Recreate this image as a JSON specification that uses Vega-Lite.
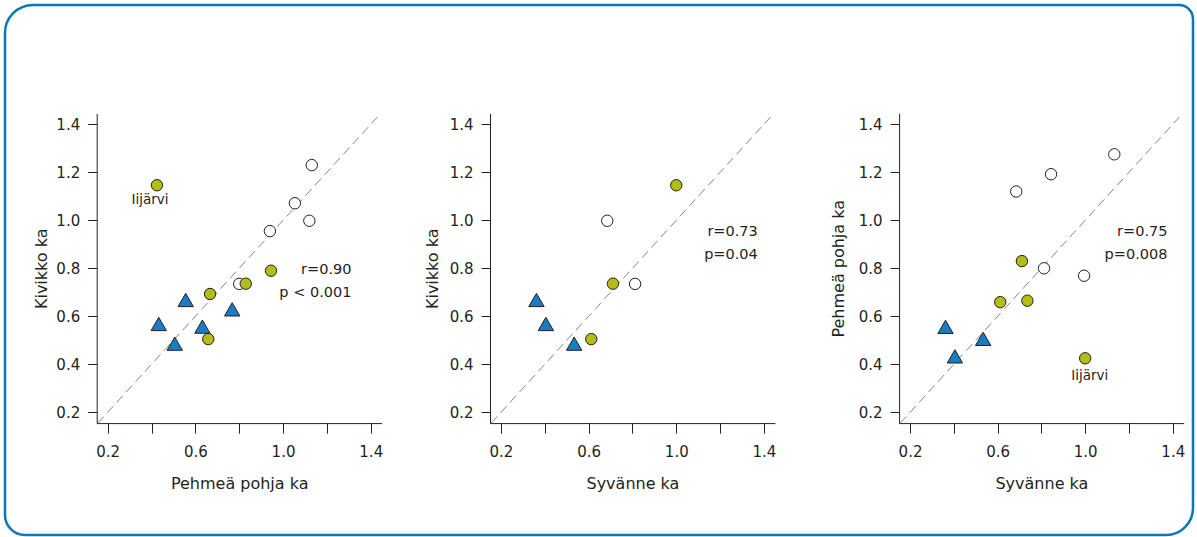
{
  "$schema": "https://vega.github.io/schema/vega-lite/v6.json",
  "width": 1188,
  "height": 530,
  "autosize": {"type": "none"},
  "padding": {"left": 5, "top": 5, "right": 4, "bottom": 2},
  "background": "white",
  "config": {
    "font": "DejaVu Sans",
    "view": {"stroke": "#0b76bc", "strokeWidth": 2.5},
    "style": {
      "cell": {
        "cornerRadiusTopLeft": 28,
        "cornerRadiusTopRight": 14,
        "cornerRadiusBottomLeft": 20,
        "cornerRadiusBottomRight": 27
      }
    },
    "axis": {
      "grid": false,
      "domainColor": "#231f20",
      "domainWidth": 1,
      "tickColor": "#231f20",
      "tickWidth": 1,
      "labelColor": "#231f20",
      "titleColor": "#231f20",
      "labelFont": "DejaVu Sans",
      "titleFont": "DejaVu Sans",
      "labelFontSize": 15,
      "titleFontSize": 16,
      "titleFontWeight": "normal",
      "labelFlush": false,
      "labelOverlap": false
    }
  },
  "datasets": {
    "jarvet": [
      {"ryhma": 2, "pehmea": 0.425, "kivikko": 1.146, "syvanne": 1.0, "nimi": "Iijärvi"},
      {"ryhma": 1, "pehmea": 1.12, "kivikko": 0.998, "syvanne": 0.685, "nimi": null},
      {"ryhma": 1, "pehmea": 0.8, "kivikko": 0.735, "syvanne": 0.812, "nimi": null},
      {"ryhma": 2, "pehmea": 0.83, "kivikko": 0.736, "syvanne": 0.711, "nimi": null},
      {"ryhma": 2, "pehmea": 0.659, "kivikko": 0.505, "syvanne": 0.612, "nimi": null},
      {"ryhma": 3, "pehmea": 0.556, "kivikko": 0.668, "syvanne": 0.362, "nimi": null},
      {"ryhma": 3, "pehmea": 0.433, "kivikko": 0.568, "syvanne": 0.405, "nimi": null},
      {"ryhma": 3, "pehmea": 0.506, "kivikko": 0.486, "syvanne": 0.534, "nimi": null},
      {"ryhma": 1, "pehmea": 1.275, "kivikko": null, "syvanne": 1.133, "nimi": null},
      {"ryhma": 1, "pehmea": 1.192, "kivikko": null, "syvanne": 0.844, "nimi": null},
      {"ryhma": 1, "pehmea": 0.769, "kivikko": null, "syvanne": 0.995, "nimi": null},
      {"ryhma": 2, "pehmea": 0.665, "kivikko": null, "syvanne": 0.736, "nimi": null},
      {"ryhma": 1, "pehmea": 1.131, "kivikko": 1.23, "syvanne": null, "nimi": null},
      {"ryhma": 1, "pehmea": 1.054, "kivikko": 1.071, "syvanne": null, "nimi": null},
      {"ryhma": 1, "pehmea": 0.94, "kivikko": 0.955, "syvanne": null, "nimi": null},
      {"ryhma": 2, "pehmea": 0.945, "kivikko": 0.79, "syvanne": null, "nimi": null},
      {"ryhma": 2, "pehmea": 0.667, "kivikko": 0.693, "syvanne": null, "nimi": null},
      {"ryhma": 3, "pehmea": 0.768, "kivikko": 0.629, "syvanne": null, "nimi": null},
      {"ryhma": 3, "pehmea": 0.632, "kivikko": 0.557, "syvanne": null, "nimi": null}
    ]
  },
  "layer": [
    {
      "encoding": {
        "x": {
          "field": "pehmea", "type": "quantitative",
          "scale": {"domain": [0.15, 1.45], "range": [91.7, 376.7], "nice": false, "zero": false},
          "axis": {
            "title": "Pehmeä pohja ka", "orient": "bottom", "offset": -111.9,
            "values": [0.2, 0.4, 0.6, 0.8, 1.0, 1.2, 1.4], "format": ".1f",
            "labelExpr": "indexof(['0.2','0.6','1.0','1.4'], datum.label) >= 0 ? datum.label : ''",
            "tickSize": 10, "labelPadding": 11, "titlePadding": 16
          }
        },
        "y": {
          "field": "kivikko", "type": "quantitative",
          "scale": {"domain": [0.155, 1.445], "range": [418.1, 108.5], "nice": false, "zero": false},
          "axis": {
            "title": "Kivikko ka", "orient": "left", "offset": -91.7,
            "values": [0.2, 0.4, 0.6, 0.8, 1.0, 1.2, 1.4], "format": ".1f",
            "tickSize": 9, "labelPadding": 8, "titlePadding": 6
          }
        }
      },
      "layer": [
        {
          "data": {"values": [{"pehmea": 0.155, "kivikko": 0.155}, {"pehmea": 1.43, "kivikko": 1.43}]},
          "mark": {"type": "line", "color": "#858585", "strokeWidth": 1, "strokeDash": [9, 5]}
        },
        {
          "data": {"name": "jarvet"},
          "transform": [{"filter": "isValid(datum.pehmea) && isValid(datum.kivikko) && datum.ryhma != 3"}],
          "mark": {"type": "point", "shape": "circle", "filled": true, "size": 130, "stroke": "#231f20", "strokeWidth": 1, "opacity": 1},
          "encoding": {"fill": {"field": "ryhma", "type": "nominal", "scale": {"domain": [1, 2, 3], "range": ["#ffffff", "#b3bc19", "#1a7dc1"]}, "legend": null}}
        },
        {
          "data": {"name": "jarvet"},
          "transform": [{"filter": "isValid(datum.pehmea) && isValid(datum.kivikko) && datum.ryhma == 3"}],
          "mark": {"type": "point", "shape": "triangle-up", "filled": true, "size": 235, "stroke": "#231f20", "strokeWidth": 1, "opacity": 1},
          "encoding": {"fill": {"field": "ryhma", "type": "nominal", "legend": null}}
        },
        {
          "data": {"name": "jarvet"},
          "transform": [{"filter": "isValid(datum.pehmea) && isValid(datum.kivikko) && isValid(datum.nimi)"}],
          "mark": {"type": "text", "fontSize": 13.5, "color": "#231f20", "align": "center", "baseline": "alphabetic", "dx": -7, "dy": 19},
          "encoding": {"text": {"field": "nimi"}}
        },
        {
          "data": {"values": [
            {"pehmea": 1.312, "kivikko": 0.821, "teksti": "r=0.90"},
            {"pehmea": 1.312, "kivikko": 0.725, "teksti": "p < 0.001"}
          ]},
          "mark": {"type": "text", "fontSize": 14.5, "color": "#231f20", "align": "right", "baseline": "top"},
          "encoding": {"text": {"field": "teksti"}}
        }
      ]
    },
    {
      "encoding": {
        "x": {
          "field": "syvanne", "type": "quantitative",
          "scale": {"domain": [0.15, 1.45], "range": [485.0, 769.9], "nice": false, "zero": false},
          "axis": {
            "title": "Syvänne ka", "orient": "bottom", "offset": -111.9,
            "values": [0.2, 0.4, 0.6, 0.8, 1.0, 1.2, 1.4], "format": ".1f",
            "labelExpr": "indexof(['0.2','0.6','1.0','1.4'], datum.label) >= 0 ? datum.label : ''",
            "tickSize": 10, "labelPadding": 11, "titlePadding": 16
          }
        },
        "y": {
          "field": "kivikko", "type": "quantitative",
          "scale": {"domain": [0.155, 1.445], "range": [418.1, 108.5], "nice": false, "zero": false},
          "axis": {
            "title": "Kivikko ka", "orient": "left", "offset": -485.0,
            "values": [0.2, 0.4, 0.6, 0.8, 1.0, 1.2, 1.4], "format": ".1f",
            "tickSize": 9, "labelPadding": 8, "titlePadding": 9
          }
        }
      },
      "layer": [
        {
          "data": {"values": [{"syvanne": 0.155, "kivikko": 0.155}, {"syvanne": 1.43, "kivikko": 1.43}]},
          "mark": {"type": "line", "color": "#858585", "strokeWidth": 1, "strokeDash": [9, 5]}
        },
        {
          "data": {"name": "jarvet"},
          "transform": [{"filter": "isValid(datum.syvanne) && isValid(datum.kivikko) && datum.ryhma != 3"}],
          "mark": {"type": "point", "shape": "circle", "filled": true, "size": 130, "stroke": "#231f20", "strokeWidth": 1, "opacity": 1},
          "encoding": {"fill": {"field": "ryhma", "type": "nominal", "legend": null}}
        },
        {
          "data": {"name": "jarvet"},
          "transform": [{"filter": "isValid(datum.syvanne) && isValid(datum.kivikko) && datum.ryhma == 3"}],
          "mark": {"type": "point", "shape": "triangle-up", "filled": true, "size": 235, "stroke": "#231f20", "strokeWidth": 1, "opacity": 1},
          "encoding": {"fill": {"field": "ryhma", "type": "nominal", "legend": null}}
        },
        {
          "data": {"values": [
            {"syvanne": 1.372, "kivikko": 0.98, "teksti": "r=0.73"},
            {"syvanne": 1.372, "kivikko": 0.884, "teksti": "p=0.04"}
          ]},
          "mark": {"type": "text", "fontSize": 14.5, "color": "#231f20", "align": "right", "baseline": "top"},
          "encoding": {"text": {"field": "teksti"}}
        }
      ]
    },
    {
      "encoding": {
        "x": {
          "field": "syvanne", "type": "quantitative",
          "scale": {"domain": [0.15, 1.45], "range": [894.1, 1178.7], "nice": false, "zero": false},
          "axis": {
            "title": "Syvänne ka", "orient": "bottom", "offset": -111.9,
            "values": [0.2, 0.4, 0.6, 0.8, 1.0, 1.2, 1.4], "format": ".1f",
            "labelExpr": "indexof(['0.2','0.6','1.0','1.4'], datum.label) >= 0 ? datum.label : ''",
            "tickSize": 10, "labelPadding": 11, "titlePadding": 16
          }
        },
        "y": {
          "field": "pehmea", "type": "quantitative",
          "scale": {"domain": [0.155, 1.445], "range": [418.1, 108.5], "nice": false, "zero": false},
          "axis": {
            "title": "Pehmeä pohja ka", "orient": "left", "offset": -894.1,
            "values": [0.2, 0.4, 0.6, 0.8, 1.0, 1.2, 1.4], "format": ".1f",
            "tickSize": 9, "labelPadding": 8, "titlePadding": 12
          }
        }
      },
      "layer": [
        {
          "data": {"values": [{"syvanne": 0.155, "pehmea": 0.155}, {"syvanne": 1.43, "pehmea": 1.43}]},
          "mark": {"type": "line", "color": "#858585", "strokeWidth": 1, "strokeDash": [9, 5]}
        },
        {
          "data": {"name": "jarvet"},
          "transform": [{"filter": "isValid(datum.syvanne) && isValid(datum.pehmea) && datum.ryhma != 3"}],
          "mark": {"type": "point", "shape": "circle", "filled": true, "size": 130, "stroke": "#231f20", "strokeWidth": 1, "opacity": 1},
          "encoding": {"fill": {"field": "ryhma", "type": "nominal", "legend": null}}
        },
        {
          "data": {"name": "jarvet"},
          "transform": [{"filter": "isValid(datum.syvanne) && isValid(datum.pehmea) && datum.ryhma == 3"}],
          "mark": {"type": "point", "shape": "triangle-up", "filled": true, "size": 235, "stroke": "#231f20", "strokeWidth": 1, "opacity": 1},
          "encoding": {"fill": {"field": "ryhma", "type": "nominal", "legend": null}}
        },
        {
          "data": {"name": "jarvet"},
          "transform": [{"filter": "isValid(datum.syvanne) && isValid(datum.pehmea) && isValid(datum.nimi)"}],
          "mark": {"type": "text", "fontSize": 13.5, "color": "#231f20", "align": "center", "baseline": "alphabetic", "dx": 4.5, "dy": 21.7},
          "encoding": {"text": {"field": "nimi"}}
        },
        {
          "data": {"values": [
            {"syvanne": 1.376, "pehmea": 0.98, "teksti": "r=0.75"},
            {"syvanne": 1.376, "pehmea": 0.884, "teksti": "p=0.008"}
          ]},
          "mark": {"type": "text", "fontSize": 14.5, "color": "#231f20", "align": "right", "baseline": "top"},
          "encoding": {"text": {"field": "teksti"}}
        }
      ]
    }
  ],
  "resolve": {
    "scale": {"x": "independent", "y": "independent"},
    "axis": {"x": "independent", "y": "independent"}
  }
}
